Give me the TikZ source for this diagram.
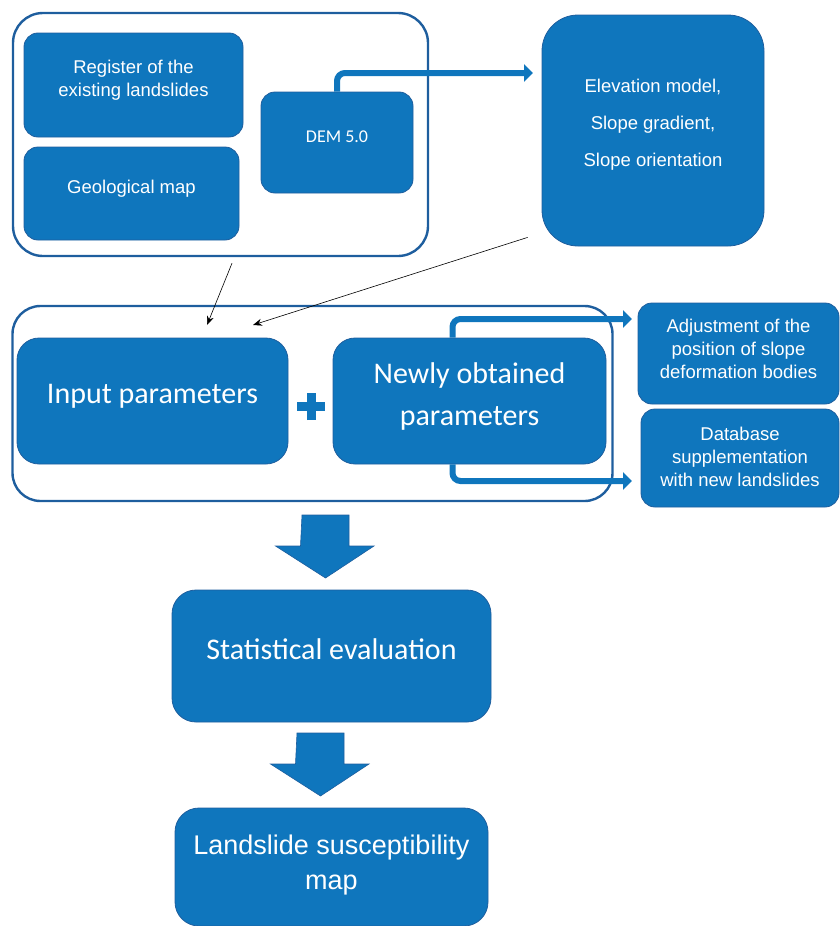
\documentclass[tikz,border=0pt]{standalone}
\usepackage{fontspec}
\setmainfont{Liberation Sans}
\newfontfamily\calfont{Carlito}
\usetikzlibrary{arrows.meta}

\definecolor{boxblue}{RGB}{15,118,189}
\definecolor{rimblue}{RGB}{30,94,158}

\begin{document}
\begin{tikzpicture}[x=1pt,y=-1pt]
    \tikzset{
        blk/.style={fill=boxblue, draw=rimblue, line width=0.8pt, rounded corners=14pt, inner sep=0pt},
        frame/.style={draw=rimblue, line width=2.4pt, rounded corners=30pt, inner sep=0pt},
        tx/.style={text=white, align=center, inner sep=0pt},
        arialtx/.style={tx, font=\fontsize{18.5}{23}\selectfont},
        calibtx/.style={tx, font=\calfont\fontsize{30}{42}\selectfont},
        pipe/.style={draw=boxblue, line width=6pt, rounded corners=8pt, -{Triangle[length=9pt,width=17pt]}},
        thinarrow/.style={draw=black, line width=0.6pt, -{Stealth[length=9pt,width=7pt]}},
        fat/.style={fill=boxblue, draw=rimblue, line width=0.6pt}
    }
    \useasboundingbox (0,0) rectangle (840,926);

    % top group
    \node[frame, minimum width=415pt, minimum height=243pt] (top) at (220.5,134.5) {};
    \node[blk, minimum width=219pt, minimum height=104pt] (reg) at (133.5,85) {};
    \node[arialtx] (regt) at ([yshift=5pt]reg.center) {Register of the\\existing landslides};
    \node[blk, minimum width=215pt, minimum height=93pt] (geo) at (131.5,193.5) {};
    \node[arialtx] (geot) at ([yshift=4.5pt]geo.center) {Geological map};
    \node[blk, minimum width=152pt, minimum height=101pt] (dem) at (337,142.5) {};
    \node[tx, font=\calfont\fontsize{18}{22}\selectfont] (demt) at ([yshift=5.5pt]dem.center) {DEM 5.0};

    \node[blk, rounded corners=36pt, minimum width=222pt, minimum height=231pt] (elev) at (653,130.5) {};
    \node[tx, font=\fontsize{18.5}{37}\selectfont] (elevt) at ([yshift=6pt]elev.center)
        {Elevation model,\\Slope gradient,\\Slope orientation};

    \coordinate (demtip) at (533,73);
    \draw[pipe] (dem.north) |- (demtip);

    % middle group
    \node[frame, rounded corners=28pt, minimum width=600pt, minimum height=195pt] (mid) at (312.5,403.5) {};
    \node[blk, rounded corners=22pt, minimum width=271pt, minimum height=126pt] (input) at (152.5,401) {};
    \node[calibtx] (inputt) at ([yshift=5pt]input.center) {Input parameters};
    \node[blk, rounded corners=22pt, minimum width=273pt, minimum height=126pt] (newly) at (469.5,401) {};
    \node[calibtx] (newlyt) at ([yshift=5pt]newly.center) {Newly obtained\\parameters};

    \node (plus) at (311,406.5) {};
    \draw[boxblue, line width=9pt] ([xshift=-14pt]plus.center) -- ([xshift=14pt]plus.center)
        ([yshift=-13.5pt]plus.center) -- ([yshift=13.5pt]plus.center);

    \coordinate (inA) at (207,325);
    \coordinate (inB) at (253,325);
    \draw[thinarrow] ([xshift=11.5pt,yshift=-6pt]top.south) -- (inA);
    \draw[thinarrow] ([xshift=-14pt,yshift=9pt]elev.south west) -- (inB);

    \node[blk, minimum width=201pt, minimum height=101pt] (adj) at (738.5,353.5) {};
    \node[arialtx] (adjt) at ([yshift=4.5pt]adj.center) {Adjustment of the\\position of slope\\deformation bodies};
    \node[blk, minimum width=198pt, minimum height=98pt] (db) at (740,458) {};
    \node[arialtx] (dbt) at ([yshift=1.5pt]db.center) {Database\\supplementation\\with new landslides};

    \coordinate (adjtip) at (632,319);
    \coordinate (dbtip) at (632,481);
    \draw[pipe] ([xshift=-17pt]newly.north) |- (adjtip);
    \draw[pipe] ([xshift=-17pt]newly.south) |- (dbtip);

    % block arrows
    \foreach \cx/\ty in {325.5/515, 320.5/733}
        \draw[fat] (\cx-23.5,\ty) -- ++(47,0) -- ++(0,31) -- ++(25,0) -- (\cx,\ty+63)
            -- (\cx-50,\ty+31) -- ++(25,0) -- cycle;

    % bottom
    \node[blk, rounded corners=24pt, minimum width=319pt, minimum height=132pt] (stat) at (331.5,656) {};
    \node[calibtx] (statt) at ([yshift=7pt]stat.center) {Statistical evaluation};
    \node[blk, rounded corners=24pt, minimum width=313pt, minimum height=118pt] (map) at (331.5,867) {};
    \node[tx, font=\fontsize{27}{35}\selectfont] (mapt) at ([yshift=1.5pt]map.center) {Landslide susceptibility\\map};
\end{tikzpicture}
\end{document}
